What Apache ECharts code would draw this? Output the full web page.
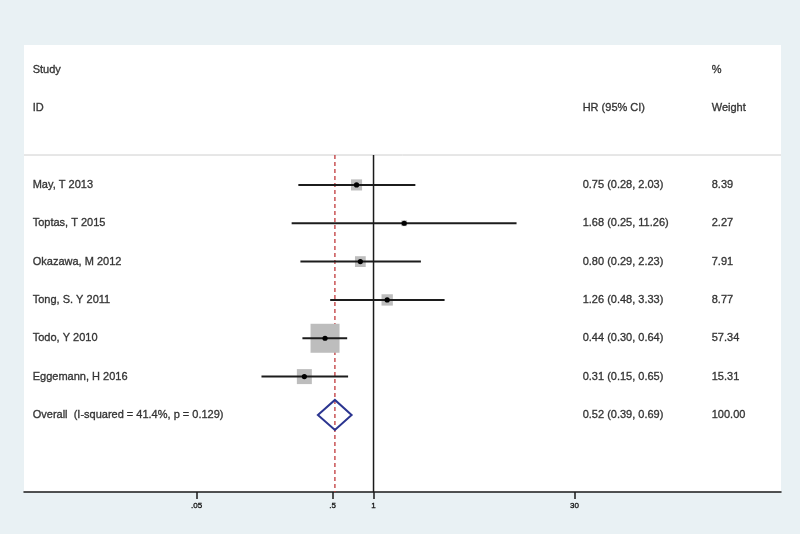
<!DOCTYPE html>
<html>
<head>
<meta charset="utf-8">
<script src="https://cdn.jsdelivr.net/npm/echarts@6/dist/echarts.min.js"></script>
<style>
  html, body { margin: 0; padding: 0; background: #e9f1f4; }
  #chart { width: 800px; height: 534px; }
</style>
</head>
<body>
<div id="chart"></div>
<script>
// study rows, top to bottom
const studies = ['May, T 2013', 'Toptas, T 2015', 'Okazawa, M 2012', 'Tong, S. Y 2011', 'Todo, Y 2010', 'Eggemann, H 2016']
const hr = [0.75, 1.68, 0.80, 1.26, 0.44, 0.31]
const ciLow = [0.28, 0.25, 0.29, 0.48, 0.30, 0.15]
const ciHigh = [2.03, 11.26, 2.23, 3.33, 0.64, 0.65]
const weights = [8.39, 2.27, 7.91, 8.77, 57.34, 15.31]

const overallLabel = 'Overall  (I-squared = 41.4%, p = 0.129)'
const overallHr = 0.52
const overallLow = 0.39
const overallHigh = 0.69
const overallWeight = 100.00

const tickValues = [0.05, 0.5, 1, 30]
const tickLabels = ['.05', '.5', '1', '30']

const FONT = 'Liberation Sans, Arial, sans-serif'
const TEXT = '#111'
const lg = v => Math.log10(v)
const fmt = v => v.toFixed(2)

// rows: headers at -3 / -2, separator at -0.78, studies 0..5, overall 6
const SEP_ROW = -0.78
const Y_MIN = -3.65
const Y_MAX = 8.01
const X_MIN = -2.57
const X_MAX = 2.996

// text columns on a 0..1 helper axis
const COL_STUDY = 0.0115
const COL_HR = 0.738
const COL_W = 0.9085

const textItems = []
textItems.push({ name: 'Study', value: [COL_STUDY, -3] })
textItems.push({ name: 'ID', value: [COL_STUDY, -2] })
textItems.push({ name: '%', value: [COL_W, -3] })
textItems.push({ name: 'HR (95% CI)', value: [COL_HR, -2] })
textItems.push({ name: 'Weight', value: [COL_W, -2] })
studies.forEach((s, i) => {
  textItems.push({ name: s, value: [COL_STUDY, i] })
  textItems.push({ name: `${fmt(hr[i])} (${fmt(ciLow[i])}, ${fmt(ciHigh[i])})`, value: [COL_HR, i] })
  textItems.push({ name: fmt(weights[i]), value: [COL_W, i] })
})
const oRow = studies.length
textItems.push({ name: overallLabel, value: [COL_STUDY, oRow] })
textItems.push({ name: `${fmt(overallHr)} (${fmt(overallLow)}, ${fmt(overallHigh)})`, value: [COL_HR, oRow] })
textItems.push({ name: fmt(overallWeight), value: [COL_W, oRow] })

const studyData = studies.map((s, i) => [lg(hr[i]), i, lg(ciLow[i]), lg(ciHigh[i]), weights[i]])

const chart = echarts.init(document.getElementById('chart'))

chart.setOption({
  animation: false,
  grid: {
    left: 24, right: 19, top: 45, bottom: 42,
    show: true, backgroundColor: '#ffffff', borderWidth: 0
  },
  xAxis: [
    {
      type: 'value', min: X_MIN, max: X_MAX, position: 'bottom',
      splitLine: { show: false },
      axisLine: { show: true, onZero: false, lineStyle: { color: '#1a1a1a', width: 1.5 } },
      axisTick: { show: true, customValues: tickValues.map(lg), length: 7, lineStyle: { color: '#1a1a1a', width: 1.5 } },
      axisLabel: {
        customValues: tickValues.map(lg), fontSize: 8, fontFamily: FONT, color: TEXT, margin: 10,
        textBorderColor: TEXT, textBorderWidth: 0.3,
        formatter: v => {
          const i = tickValues.findIndex(t => Math.abs(lg(t) - v) < 1e-6)
          return i >= 0 ? tickLabels[i] : ''
        }
      }
    },
    { type: 'value', min: 0, max: 1, show: false }
  ],
  yAxis: { type: 'value', inverse: true, min: Y_MIN, max: Y_MAX, show: false },
  series: [
    {
      type: 'custom',
      silent: true,
      data: [
        [X_MIN, SEP_ROW, X_MAX, SEP_ROW, 0],
        [0, SEP_ROW, 0, Y_MAX, 1],
        [lg(overallHr), SEP_ROW, lg(overallHr), Y_MAX, 2]
      ],
      renderItem: (params, api) => {
        const a = api.coord([api.value(0), api.value(1)])
        const b = api.coord([api.value(2), api.value(3)])
        const styles = [
          { stroke: '#cfcfcf', lineWidth: 1 },
          { stroke: '#1a1a1a', lineWidth: 1.5 },
          { stroke: '#c0393b', lineWidth: 1.3, lineDash: [4, 3] }
        ]
        return {
          type: 'line',
          shape: { x1: a[0], y1: a[1], x2: b[0], y2: b[1] },
          style: styles[api.value(4)]
        }
      }
    },
    {
      type: 'custom',
      data: studyData,
      silent: true,
      renderItem: (params, api) => {
        const c = api.coord([api.value(0), api.value(1)])
        const lo = api.coord([api.value(2), api.value(1)])
        const hi = api.coord([api.value(3), api.value(1)])
        const side = 3.83 * Math.sqrt(api.value(4))
        return {
          type: 'group',
          children: [
            { type: 'rect', shape: { x: c[0] - side / 2, y: c[1] - side / 2, width: side, height: side }, style: { fill: '#bdbdbd' } },
            { type: 'line', shape: { x1: lo[0], y1: lo[1], x2: hi[0], y2: hi[1] }, style: { stroke: '#1c1c1c', lineWidth: 2 } },
            { type: 'circle', shape: { cx: c[0], cy: c[1], r: 2.6 }, style: { fill: '#000' } }
          ]
        }
      }
    },
    {
      type: 'custom',
      data: [[lg(overallHr), oRow, lg(overallLow), lg(overallHigh)]],
      silent: true,
      renderItem: (params, api) => {
        const c = api.coord([api.value(0), api.value(1)])
        const lo = api.coord([api.value(2), api.value(1)])
        const hi = api.coord([api.value(3), api.value(1)])
        const h = 15
        return {
          type: 'polygon',
          shape: { points: [[lo[0], c[1]], [c[0], c[1] - h], [hi[0], c[1]], [c[0], c[1] + h]] },
          style: { fill: 'none', stroke: '#2b3590', lineWidth: 2 }
        }
      }
    },
    {
      type: 'scatter',
      xAxisIndex: 1,
      data: textItems,
      symbolSize: 0,
      silent: true,
      itemStyle: { color: 'transparent' },
      label: {
        show: true, position: 'right', distance: 0, formatter: '{b}',
        color: TEXT, fontSize: 11, fontFamily: FONT,
        textBorderColor: TEXT, textBorderWidth: 0.35
      },
      labelLayout: { hideOverlap: false }
    }
  ]
})
</script>
</body>
</html>
